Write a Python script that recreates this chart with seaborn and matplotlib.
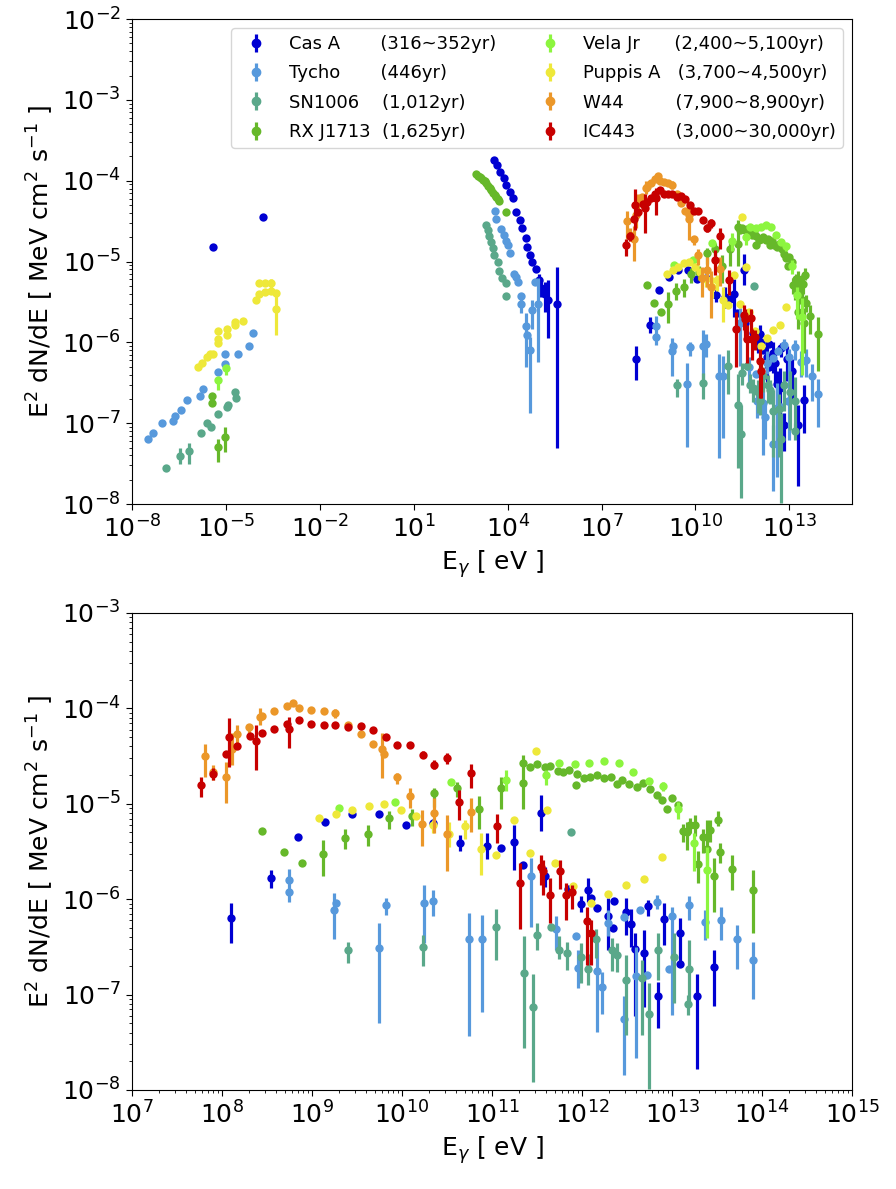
import numpy as np
import pandas as pd
import matplotlib
matplotlib.use("Agg")
import matplotlib.pyplot as plt
from matplotlib.ticker import NullLocator
import seaborn as sns

nan = np.nan

# values are log10(E / eV) and log10(E^2 dN/dE); hi/lo are error bar ends (nan = no bar)
casa_e = [-5.40, -3.83,
          3.56, 3.66, 3.77, 3.88, 3.96, 4.09, 4.17, 4.28, 4.39, 4.47, 4.58, 4.62, 4.71, 4.79, 4.90,
          5.00, 5.08, 5.18, 5.29, 5.58,
          8.10, 8.55, 8.85, 9.15, 9.44, 9.75, 10.04, 10.34, 10.64, 10.94,
          11.10, 11.24, 11.34, 11.54, 11.59, 11.84, 11.99, 12.07, 12.10, 12.17,
          12.29, 12.34, 12.36, 12.49, 12.54, 12.59, 12.69, 12.73, 12.84, 12.91,
          13.09, 13.09, 13.28, 13.47]
casa_f = [-4.82, -4.45,
          -3.75, -3.81, -3.89, -3.97, -4.05, -4.14, -4.22, -4.39, -4.49, -4.58, -4.71, -4.82, -4.92, -5.00, -5.09,
          -5.23, -5.33, -5.40, -5.48, -5.53,
          -6.20, -5.78, -5.35, -5.19, -5.11, -5.11, -5.22, -5.20, -5.41, -5.44,
          -5.46, -5.40, -5.64, -5.10, -5.76, -5.89, -6.05, -5.90, -5.99, -6.09,
          -6.18, -6.30, -6.02, -6.13, -6.26, -6.52, -6.56, -6.07, -7.02, -6.21,
          -6.35, -6.68, -7.02, -6.71]
casa_hi = [nan, nan,
           nan, nan, nan, nan, nan, nan, nan, nan, nan, nan, nan, nan, nan, nan, nan,
           -5.15, -5.23, -5.25, -5.23, -5.07,
           -6.04, -5.69, nan, nan, nan, nan, nan, nan, -5.33, -5.31,
           nan, -5.22, nan, -4.91, -5.66, nan, -5.97, -5.78, nan, nan,
           -5.99, nan, nan, -5.99, -6.10, -6.36, -6.32, -6.01, -6.87, -6.04,
           -6.20, nan, -6.78, -6.53]
casa_lo = [nan, nan,
           nan, nan, nan, nan, nan, nan, nan, nan, nan, nan, nan, nan, nan, nan, nan,
           -5.31, -5.44, -5.62, -5.95, -7.31,
           -6.46, -5.88, nan, nan, nan, nan, nan, nan, -5.50, -5.58,
           nan, -5.69, nan, -5.29, -5.87, nan, -6.13, -6.03, nan, nan,
           -6.53, nan, nan, -6.38, -6.50, -7.23, -7.13, -6.18, -7.35, -6.48,
           -6.69, nan, -7.78, -7.12]

tycho_e = [-7.50, -7.34, -7.03, -6.69, -6.63, -6.43, -6.23, -5.82, -5.73, -5.25, -5.02, -5.02, -4.60, -4.26, -4.12,
           3.59, 3.62, 3.80, 3.88, 3.96, 4.01, 4.07, 4.20, 4.26, 4.33, 4.44, 4.44, 4.58, 4.62, 4.71, 4.79, 4.87, 4.97,
           8.74, 8.74, 9.25, 9.27, 9.74, 9.82, 10.24, 10.35, 10.75, 10.89,
           11.43, 11.71, 11.93, 11.96, 12.17, 12.22, 12.29, 12.47, 12.47, 12.60,
           12.65, 12.72, 12.83, 12.97, 13.00, 13.19, 13.37, 13.54, 13.72, 13.90]
tycho_f = [-7.20, -7.12, -7.00, -6.97, -6.91, -6.84, -6.71, -6.66, -6.58, -6.37, -6.27, -6.14, -6.14, -6.05, -5.89,
           -4.37, -4.48, -4.60, -4.67, -4.74, -4.79, -4.90, -5.15, -5.19, -5.25, -5.43, -5.53, -5.80, -5.91, -6.10, -5.60, -5.25, -5.52,
           -5.80, -5.93, -6.11, -6.04, -6.51, -6.06, -6.04, -6.02, -6.42, -6.42,
           -5.76, -6.31, -6.39, -6.72, -6.75, -6.92, -6.25, -7.26, -6.19, -6.81,
           -6.11, -6.80, -6.03, -6.73, -6.18, -6.06, -6.24, -6.22, -6.42, -6.64]
tycho_hi = [nan] * 15 + [nan] * 11 + [-5.44, -5.64, nan, -5.93, -5.48, nan, -5.21] + [
           -5.68, nan, -5.94, nan, -6.25, -5.99, -5.85, -5.90, -6.15, -6.17,
           -5.57, -6.18, nan, -6.53, -6.41, -6.76, -6.11, -7.02, nan, -6.50,
           nan, nan, -5.96, nan, -6.08, -5.97, -6.11, -6.08, -6.27, -6.45]
tycho_lo = [nan] * 15 + [nan] * 11 + [-5.64, -6.30, nan, -6.88, -5.83, nan, -6.24] + [
           -6.03, nan, -6.42, nan, -7.30, -6.17, -6.46, -6.18, -7.43, -7.18,
           -6.29, -6.53, nan, -6.93, -7.39, -7.20, -6.39, -7.84, nan, -7.67,
           nan, nan, -6.10, nan, -7.21, -6.22, -6.43, -6.43, -6.73, -7.05]

sn1006_e = [-6.91, -6.46, -6.19, -5.79, -5.61, -5.47, -5.24, -4.97, -4.92, -4.71, -4.67,
            3.32, 3.38, 3.41, 3.48, 3.52, 3.56, 3.69, 3.73, 3.83, 3.96, 3.96,
            9.40, 10.23, 11.05, 11.36, 11.46, 11.50, 11.66, 11.74, 11.83, 11.88,
            11.99, 12.07, 12.16, 12.33, 12.39, 12.49, 12.67, 12.74, 12.84, 13.02,
            13.18, 13.19]
sn1006_f = [-7.56, -7.40, -7.35, -7.12, -7.00, -7.05, -6.89, -6.80, -6.77, -6.61, -6.69,
            -4.55, -4.61, -4.69, -4.76, -4.83, -4.92, -5.00, -5.12, -5.21, -5.26, -5.43,
            -6.53, -6.50, -6.29, -6.77, -7.13, -6.38, -6.29, -6.53, -6.56, -5.30,
            -6.61, -6.73, -6.42, -6.53, -6.59, -6.85, -6.83, -7.20, -6.53, -6.61,
            -7.10, -6.73]
sn1006_hi = [nan, -7.31, -7.24] + [nan] * 8 + [nan] * 11 + [
            -6.45, -6.38, -6.10, -6.39, -6.78, -6.25, nan, -6.39, -6.45, nan,
            -6.46, -6.57, -6.31, -6.41, -6.46, -6.59, -6.64, -6.88, -6.36, -6.36,
            -7.00, -6.43]
sn1006_lo = [nan, -7.50, -7.50] + [nan] * 8 + [nan] * 11 + [
            -6.67, -6.70, -6.64, -7.56, -7.92, -6.53, nan, -6.63, -6.74, nan,
            -6.88, -6.90, -6.62, -6.75, -6.76, -7.42, -7.42, -7.99, -6.85, -7.09,
            -7.21, -7.09]

rxj_e = [-5.45, -5.45, -5.26, -5.02,
         3.00, 3.06, 3.11, 3.16, 3.22, 3.27, 3.32, 3.38, 3.43, 3.48, 3.54, 3.59, 3.64, 3.69, 3.73, 3.96,
         8.44, 8.69, 8.89, 9.12, 9.37, 9.62, 9.86, 10.11, 10.36, 10.61,
         10.86, 11.10, 11.35, 11.35,
         11.42, 11.50, 11.59, 11.65, 11.73, 11.79, 11.86, 11.93, 11.94, 12.02,
         12.09, 12.17, 12.24, 12.32, 12.39, 12.45, 12.52, 12.61, 12.68, 12.76,
         12.83, 12.89, 12.94, 13.00, 13.07,
         13.12, 13.17, 13.20, 13.26, 13.29, 13.34, 13.39, 13.42, 13.47, 13.51, 13.53, 13.67, 13.90]
rxj_f = [-6.66, -6.75, -7.30, -7.17,
         -3.92, -3.94, -3.95, -3.97, -3.99, -4.01, -4.03, -4.06, -4.09, -4.12, -4.15, -4.18, -4.20, -4.23, -4.25, -4.39,
         -5.29, -5.51, -5.62, -5.53, -5.36, -5.32, -5.15, -5.13, -4.89, -4.84,
         -5.06, -4.84, -4.78, -4.57,
         -4.61, -4.58, -4.61, -4.60, -4.66, -4.67, -4.65, -4.80, -4.69, -4.73,
         -4.72, -4.70, -4.73, -4.72, -4.79, -4.75, -4.79, -4.82, -4.78, -4.85,
         -4.91, -4.96, -5.05, -4.94, -5.01,
         -5.29, -5.30, -5.22, -5.22, -5.63, -5.35, -5.47, -5.28, -5.76, -5.17, -5.51, -5.68, -5.90]
rxj_hi = [nan, nan, -7.19, -7.05] + [nan] * 16 + [
          nan, nan, nan, -5.38, -5.27, -5.22, -5.08, -5.05, -4.83, -4.77,
          -4.92, -4.72, -4.49, nan] + [nan] * 25 + [
          -5.21, -5.19, -5.15, -5.12, -5.50, -5.26, -5.17, -5.17, -5.57, -5.08, -5.41, -5.54, -5.69]
rxj_lo = [nan, nan, -7.48, -7.36] + [nan] * 16 + [
          nan, nan, nan, -5.76, -5.47, -5.44, -5.26, -5.23, -5.03, -4.93,
          -5.27, -5.05, -5.05, nan] + [nan] * 25 + [
          -5.40, -5.48, -5.31, -5.34, -5.83, -5.52, -5.70, -5.40, -6.13, -5.23, -5.62, -5.90, -6.36]

vela_e = [-5.24, -4.99,
          9.30, 9.92, 10.54, 11.16, 11.60, 11.75, 11.92, 12.08, 12.24, 12.41,
          12.57, 12.74, 12.90, 13.07, 13.24, 13.39]
vela_f = [-6.47, -6.32,
          -5.04, -4.98, -4.77, -4.75, -4.70, -4.57, -4.58, -4.57, -4.55, -4.57,
          -4.67, -4.76, -4.81, -5.05, -5.41, -5.69]
vela_hi = [-6.47, -6.32,
           nan, nan, nan, -4.65, -4.65, nan, nan, nan, nan, nan,
           nan, nan, -4.77, -4.98, -5.31, -5.45]
vela_lo = [-6.59, -6.41,
           nan, nan, nan, -4.87, -4.80, nan, nan, nan, nan, nan,
           nan, nan, -4.87, -5.16, -5.71, -6.41]

puppis_e = [-5.88, -5.77, -5.61, -5.50, -5.40, -5.24, -5.24, -5.24, -4.97, -4.97, -4.71,
            -4.71, -4.46, -4.05, -3.93, -3.93, -3.75, -3.75, -3.57, -3.57, -3.41, -3.40,
            9.08, 9.27, 9.45, 9.63, 9.80, 9.99, 10.16, 10.34, 10.52, 10.70, 10.88,
            11.05, 11.24, 11.42, 11.49, 11.61, 11.70, 11.90, 12.10, 12.29, 12.49, 12.69, 12.89]
puppis_f = [-6.30, -6.25, -6.18, -6.15, -6.14, -6.01, -5.96, -5.86, -5.91, -5.84, -5.79,
            -5.75, -5.73, -5.47, -5.40, -5.27, -5.27, -5.38, -5.27, -5.36, -5.39, -5.59,
            -5.15, -5.11, -5.07, -5.02, -5.00, -5.07, -5.13, -5.22, -5.32, -5.23, -5.47,
            -5.54, -5.17, -5.52, -4.45, -5.07, -5.62, -5.86, -6.04, -5.95, -5.85, -5.79, -5.56]
puppis_hi = [nan] * 18 + [-5.22, nan, nan, -5.42] + [nan] * 7 + [-5.17, -5.19, -5.17, -5.31] + [nan] * 12
puppis_lo = [nan] * 18 + [-5.33, nan, nan, -5.91] + [nan] * 7 + [-5.31, -5.45, -5.37, -5.75] + [nan] * 12

w44_e = [7.81, 7.90, 8.04, 8.11, 8.17, 8.30, 8.42, 8.45, 8.58, 8.72,
         8.79, 8.86, 8.99, 9.13, 9.26, 9.40, 9.54, 9.68, 9.78, 9.80,
         9.95, 10.09, 10.22, 10.36, 10.50, 10.77]
w44_f = [-4.50, -4.67, -4.72, -4.43, -4.27, -4.20, -4.09, -4.08, -4.03, -3.98,
         -3.94, -4.00, -4.02, -4.03, -4.05, -4.17, -4.27, -4.37, -4.43, -4.48,
         -4.72, -4.92, -5.21, -5.10, -5.32, -5.09]
w44_hi = [-4.37, -4.59, -4.56, -4.26, -4.17, -4.16, -4.00, nan, nan, nan,
          nan, nan, nan, nan, -4.01, nan, nan, nan, -4.26, nan,
          -4.68, -4.84, -5.07, -4.94, -5.12, -4.94]
w44_lo = [-4.72, -4.75, -4.99, -4.59, -4.38, -4.26, -4.17, nan, nan, nan,
          nan, nan, nan, nan, -4.10, nan, nan, nan, -4.73, nan,
          -4.79, -5.04, -5.44, -5.31, -5.70, -5.30]

ic443_e = [7.77, 7.90, 8.04, 8.08, 8.17, 8.31, 8.38, 8.44, 8.58, 8.72,
           8.75, 8.86, 8.99, 9.13, 9.26, 9.40, 9.54, 9.68, 9.82, 9.95,
           10.09, 10.23, 10.36, 10.50, 10.63, 10.77, 11.06, 11.31, 11.54, 11.57,
           11.64, 11.76, 11.82, 11.89, 12.06, 12.10]
ic443_f = [-4.80, -4.69, -4.48, -4.30, -4.39, -4.29, -4.34, -4.26, -4.22, -4.16,
           -4.22, -4.12, -4.16, -4.17, -4.17, -4.20, -4.19, -4.23, -4.30, -4.38,
           -4.38, -4.49, -4.59, -4.52, -4.98, -4.68, -5.23, -5.83, -5.66, -5.71,
           -5.96, -5.70, -5.96, -5.93, -6.23, -6.35]
ic443_hi = [-4.72, -4.63, nan, -4.10, nan, nan, -4.17, nan, nan, nan,
            -4.09, nan, nan, nan, nan, nan, nan, nan, nan, nan,
            nan, -4.45, -4.54, -4.47, -4.86, -4.58, -5.11, -5.62, -5.54, -5.59,
            -5.78, -5.59, -5.83, -5.85, -6.08, -6.22]
ic443_lo = [-4.93, -4.75, nan, -4.61, nan, nan, -4.65, nan, nan, nan,
            -4.42, nan, nan, nan, nan, nan, nan, nan, nan, nan,
            nan, -4.52, -4.64, -4.58, -5.17, -4.84, -5.41, -6.31, -5.85, -5.96,
            -6.25, -5.89, -6.22, -6.10, -6.69, -6.69]

names = ["Cas A", "Tycho", "SN1006", "RX J1713", "Vela Jr", "Puppis A", "W44", "IC443"]
labels = ["Cas A       (316~352yr)", "Tycho       (446yr)", "SN1006    (1,012yr)",
          "RX J1713  (1,625yr)", "Vela Jr      (2,400~5,100yr)", "Puppis A   (3,700~4,500yr)",
          "W44         (7,900~8,900yr)", "IC443       (3,000~30,000yr)"]
colors = ["#0000d2", "#5799dc", "#5aa88a", "#66b82a", "#8cf53f", "#eee83a", "#eb9729", "#c70000"]
series = [(casa_e, casa_f, casa_hi, casa_lo), (tycho_e, tycho_f, tycho_hi, tycho_lo),
          (sn1006_e, sn1006_f, sn1006_hi, sn1006_lo), (rxj_e, rxj_f, rxj_hi, rxj_lo),
          (vela_e, vela_f, vela_hi, vela_lo), (puppis_e, puppis_f, puppis_hi, puppis_lo),
          (w44_e, w44_f, w44_hi, w44_lo), (ic443_e, ic443_f, ic443_hi, ic443_lo)]

frames = []
for name, (e, f, hi, lo) in zip(names, series):
    frames.append(pd.DataFrame({"source": name, "E": 10.0 ** np.array(e), "F": 10.0 ** np.array(f),
                                "hi": 10.0 ** np.array(hi), "lo": 10.0 ** np.array(lo)}))
df = pd.concat(frames, ignore_index=True)

sns.set_style("ticks", {"axes.edgecolor": "black", "xtick.color": "black", "ytick.color": "black",
                        "text.color": "black", "axes.labelcolor": "black"})
plt.rcParams["font.family"] = ["DejaVu Sans"]
plt.rcParams["xtick.major.size"] = 4.5
plt.rcParams["ytick.major.size"] = 4.5
plt.rcParams["xtick.minor.size"] = 2.5
plt.rcParams["ytick.minor.size"] = 2.5

fig = plt.figure(figsize=(8.96, 11.89), dpi=100)
ax1 = fig.add_axes([0.1473, 0.5761, 0.8036, 0.4079])
ax2 = fig.add_axes([0.1473, 0.0833, 0.8036, 0.4012])


def draw(ax):
    ax.set(xscale="log", yscale="log")
    for name, color in zip(names, colors):
        d = df[df["source"] == name]
        b = d.dropna(subset=["hi"])
        ax.errorbar(b["E"], b["F"], yerr=[b["F"] - b["lo"], b["hi"] - b["F"]],
                    fmt="none", ecolor=color, elinewidth=2.3, zorder=2)
        sns.scatterplot(data=d, x="E", y="F", color=color, s=36, linewidth=0,
                        ax=ax, zorder=2, legend=False)
    ax.set_xlabel(r"E$_\gamma$ [ eV ]", fontsize=18)
    ax.set_ylabel(r"E$^2$ dN/dE [ MeV cm$^2$ s$^{-1}$ ]", fontsize=18)
    ax.tick_params(labelsize=18)


draw(ax1)
ax1.set_xlim(1e-8, 1e15)
ax1.set_ylim(1e-8, 1e-2)
ax1.set_xticks([10.0 ** k for k in range(-8, 14, 3)])
ax1.xaxis.set_minor_locator(NullLocator())

handles = []
for lab, color in zip(labels, colors):
    handles.append(ax1.errorbar([nan], [nan], yerr=[nan], fmt="o", color=color,
                                ms=6, elinewidth=2.3, label=lab))
ax1.legend(handles=handles, loc="upper right", ncol=2, fontsize=13, frameon=True,
           labelspacing=0.62)

draw(ax2)
ax2.set_xlim(1e7, 1e15)
ax2.set_ylim(1e-8, 1e-3)

fig.savefig("out.png", dpi=100)
